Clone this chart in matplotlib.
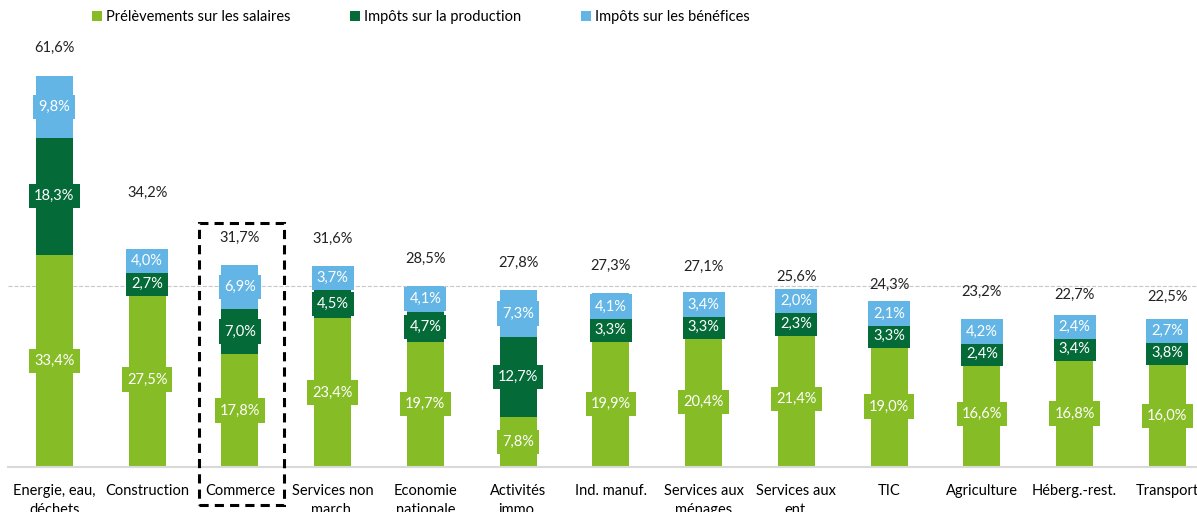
import matplotlib.pyplot as plt
from matplotlib.patches import Rectangle
import numpy as np

plt.rcParams['font.family'] = ['Lato', 'DejaVu Sans']

categories = ['Energie, eau,\ndéchets', 'Construction', 'Commerce', 'Services non\nmarch.',
              'Economie\nnationale', 'Activités\nimmo.', 'Ind. manuf.', 'Services aux\nménages',
              'Services aux\nent.', 'TIC', 'Agriculture', 'Héberg.-rest.', 'Transport']
salaires = [33.4, 27.5, 17.8, 23.4, 19.7, 7.8, 19.9, 20.4, 21.4, 19.0, 16.6, 16.8, 16.0]
production = [18.3, 2.7, 7.0, 4.5, 4.7, 12.7, 3.3, 3.3, 2.3, 3.3, 2.4, 3.4, 3.8]
benefices = [9.8, 4.0, 6.9, 3.7, 4.1, 7.3, 4.1, 3.4, 2.0, 2.1, 4.2, 2.4, 2.7]
totals = [61.6, 34.2, 31.7, 31.6, 28.5, 27.8, 27.3, 27.1, 25.6, 24.3, 23.2, 22.7, 22.5]
series_names = ['Prélèvements sur les salaires', 'Impôts sur la production', 'Impôts sur les bénéfices']

colors = ['#86BC25', '#046A38', '#62B5E5']
fmt = lambda v: f'{v:.1f}%'.replace('.', ',')

fig = plt.figure(figsize=(11.97, 5.12), dpi=100)
ax = fig.add_axes([8 / 1197, 45 / 512, 1 - 8 / 1197, 467 / 512])

x = np.arange(len(categories))
width = 0.4
bottom = np.zeros(len(categories))
prev_label = np.full(len(categories), -10.0)
for k, (vals, color, name) in enumerate(zip([salaires, production, benefices], colors, series_names)):
    vals = np.array(vals)
    ax.bar(x, vals, width, bottom=bottom, color=color, label=name, zorder=2)
    # keep label boxes of thin segments from hiding each other
    ypos = np.maximum(bottom + vals / 2, prev_label + 3.5)
    for xi, yl, v in zip(x, ypos, vals):
        ax.text(xi, yl, fmt(v), ha='center', va='center', color='white', fontsize=10.5,
                zorder=4 + k, bbox=dict(boxstyle='square,pad=0.35', fc=color, ec='none'))
    prev_label = ypos
    bottom += vals

for xi, t in zip(x, totals):
    off = 8.9 if xi == 1 else 4.3
    ax.text(xi, t + off, fmt(t), ha='center', va='center', fontsize=10.5, color='#222222')

# reference line: national economy
ax.axhline(totals[4], color='#C8C8C8', lw=0.8, ls='--', zorder=1)

# highlight box around Commerce
ax.add_patch(Rectangle((2 - 0.44, -6.0), 0.92, 44.4, fill=False, ec='black', lw=2.2,
                       ls=(0, (3, 2)), clip_on=False, zorder=8))

ax.set_xlim(-0.5, 12.32)
ax.set_ylim(0, 467 / 6.36)
ax.set_xticks(x)
ax.set_xticklabels(categories, fontsize=10.5, linespacing=1.5)
ax.tick_params(axis='x', length=0, pad=12)
ax.set_yticks([])
for s in ['top', 'left', 'right']:
    ax.spines[s].set_visible(False)
ax.spines['bottom'].set_color('#D9D9D9')
ax.spines['bottom'].set_linewidth(1.5)

ax.legend(loc='upper left', bbox_to_anchor=(0.062, 1.0), ncol=3, frameon=False, fontsize=10.5,
          handlelength=0.7, handleheight=0.7, handletextpad=0.25, columnspacing=4.1,
          borderaxespad=0.3)

fig.savefig('out.png', dpi=100)
